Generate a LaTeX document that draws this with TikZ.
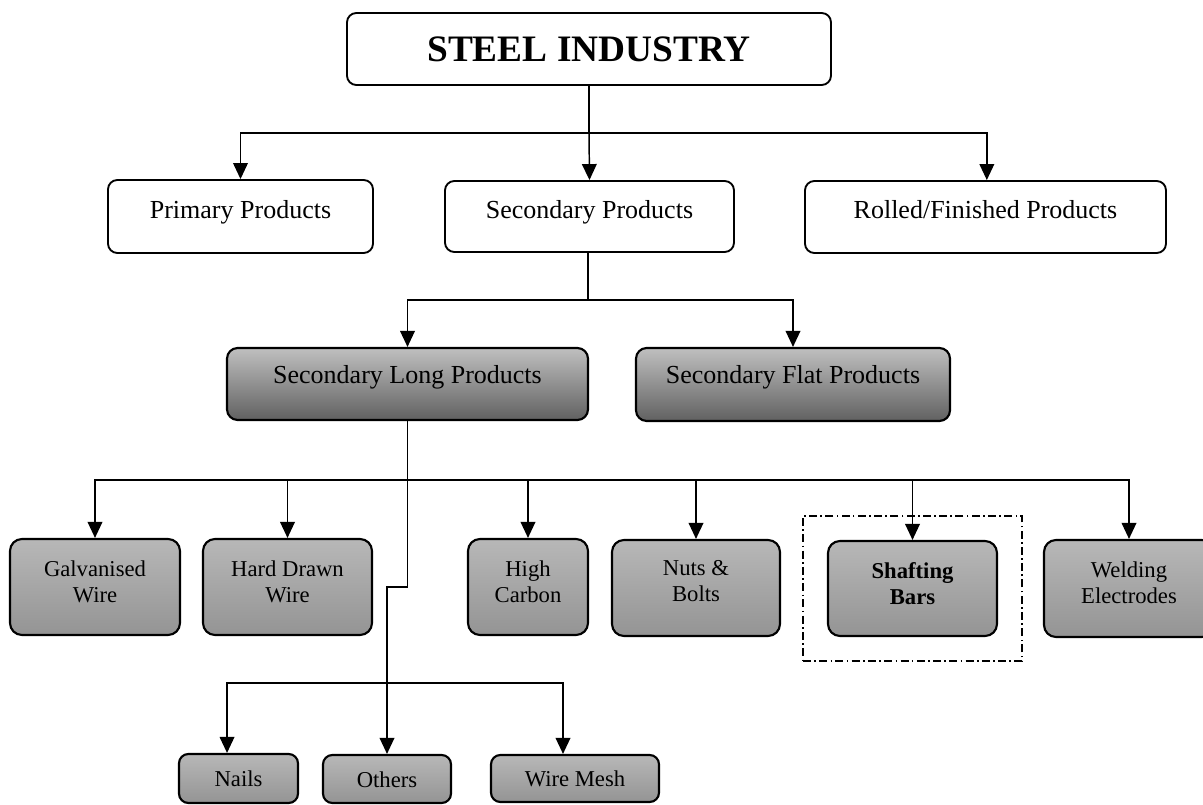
\documentclass[tikz,border=0pt]{standalone}
\usepackage{fontspec}
\setmainfont{Liberation Serif}
\usetikzlibrary{arrows.meta,fit}
\begin{document}
\begin{tikzpicture}[x=0.75pt,y=-0.75pt,
  sz/.style 2 args={minimum width=#1*0.75pt, minimum height=#2*0.75pt},
  topbox/.style={draw, line width=1.4pt, rounded corners=7pt, fill=white, inner sep=0pt},
  midbox/.style={draw, line width=1.6pt, rounded corners=8pt, inner sep=0pt,
     top color=black!25, bottom color=black!62},
  leafbox/.style={draw, line width=1.6pt, rounded corners=9pt, inner sep=0pt,
     top color=black!28, bottom color=black!42},
  lbl/.style={font=\fontsize{19.5}{22}\selectfont, text height=13pt, text depth=4pt, yshift=3pt, inner sep=0pt},
  leaflbl/.style={font=\fontsize{17}{19.5}\selectfont, align=center, yshift=4pt, inner sep=0pt},
  botlbl/.style={font=\fontsize{17}{19.5}\selectfont, yshift=-0.5pt, inner sep=0pt},
  conn/.style={line width=1.1pt},
  arr/.style={conn, -{Triangle[length=12pt,width=11pt]}},
  dashdotbox/.style={draw, line width=1.1pt, dash pattern=on 6pt off 2.5pt on 1.2pt off 2.5pt, inner sep=18pt}
]
\useasboundingbox (0,0) rectangle (1203,805);

% top level
\node[topbox, sz={484}{72}, font=\fontsize{28}{32}\selectfont\bfseries] (steel) at (589,49) {STEEL INDUSTRY};

% second level
\node[topbox, sz={265}{73}, label={[lbl]center:Primary Products}] (primary) at (240.5,216.5) {};
\node[topbox, sz={289}{71}, label={[lbl]center:Secondary Products}] (secondary) at (589.5,216.5) {};
\node[topbox, sz={361}{72}, label={[lbl]center:Rolled/Finished Products}] (rolled) at (985.5,217) {};

% third level
\node[midbox, sz={361}{72}, label={[lbl,yshift=2pt]center:Secondary Long Products}] (long) at (407.5,384) {};
\node[midbox, sz={314}{73}, label={[lbl,yshift=2pt]center:Secondary Flat Products}] (flat) at (793,384.5) {};

% leaves
\node[leafbox, sz={170}{96}, label={[leaflbl]center:Galvanised\\Wire}] (galv) at (95,587) {};
\node[leafbox, sz={169}{96}, label={[leaflbl]center:Hard Drawn\\Wire}] (hard) at (287.5,587) {};
\node[leafbox, sz={120}{96}, label={[leaflbl]center:High\\Carbon}] (high) at (528,587) {};
\node[leafbox, sz={168}{96}, label={[leaflbl,yshift=1pt]center:Nuts \&\\Bolts}] (nuts) at (696,588) {};
\node[leafbox, sz={169}{95}, label={[leaflbl,font=\fontsize{17}{19.5}\selectfont\bfseries]center:Shafting\\Bars}] (shaft) at (912.5,588.5) {};
\node[leafbox, sz={170}{97}, label={[leaflbl]center:Welding\\Electrodes}] (weld) at (1129,588.5) {};

\node[dashdotbox, fit=(shaft)] (focus) {};

% bottom level
\node[leafbox, rounded corners=7pt, sz={119}{49}, label={[botlbl]center:Nails}] (nails) at (238.5,778.5) {};
\node[leafbox, rounded corners=7pt, sz={128}{48}, label={[botlbl]center:Others}] (others) at (387,779) {};
\node[leafbox, rounded corners=7pt, sz={168}{47}, label={[botlbl]center:Wire Mesh}] (mesh) at (575,778.5) {};

% connectors: steel industry
\draw[conn] (steel.south) -- (steel.south |- 0,133) coordinate (j1);
\draw[arr] (j1) -| (primary.north);
\draw[arr] (j1) -- (secondary.north);
\draw[arr] (j1) -| ([xshift=1pt]rolled.north);

% secondary products
\draw[conn] ([xshift=-1pt]secondary.south) -- ([xshift=-1pt]secondary.south |- 0,300) coordinate (j2);
\draw[arr] (j2) -| (long.north);
\draw[arr] (j2) -| (flat.north);

% secondary long products
\draw[conn] (long.south) -- (long.south |- 0,480) coordinate (j3);
\draw[arr] (j3) -| (galv.north);
\draw[arr] (j3) -| (hard.north);
\draw[arr] (j3) -| (high.north);
\draw[arr] (j3) -| (nuts.north);
\draw[arr] (j3) -| (shaft.north);
\draw[arr] (j3) -| (weld.north);

% stepped line to lower group
\draw[conn] (j3) -- (j3 |- 0,587) -| (others.north |- 0,683) coordinate (j4);
\draw[arr] (j4) -- (others.north);
\draw[arr] (j4) -| ([xshift=-8.6pt]nails.north);
\draw[arr] (j4) -| ([xshift=-9pt]mesh.north);
\end{tikzpicture}
\end{document}
